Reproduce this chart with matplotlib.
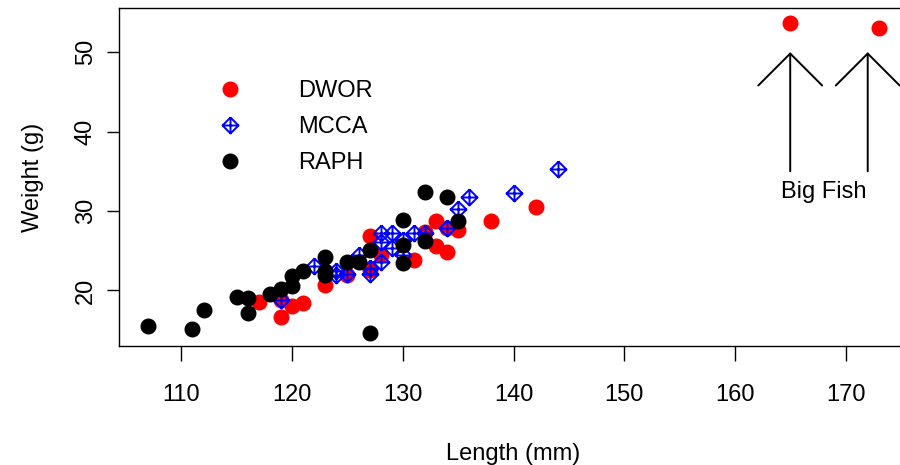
import matplotlib
matplotlib.use("Agg")
import matplotlib.pyplot as plt
from matplotlib.path import Path
from matplotlib.lines import Line2D

plt.rcParams['font.family'] = ['Liberation Sans', 'DejaVu Sans']

# ---- data ----
dwor_len = [117, 119, 119, 120, 121, 123, 125, 127, 127, 128, 131, 132, 133, 133,
            134, 134, 135, 138, 142, 165, 173]
dwor_wt = [18.6, 16.7, 18.8, 18.0, 18.4, 20.7, 21.9, 26.9, 22.6, 24.4, 23.8, 27.3,
           28.8, 25.6, 24.9, 27.8, 27.6, 28.7, 30.5, 53.7, 53.0]

mcca_len = [119, 122, 124, 124, 125, 126, 127, 127, 128, 128, 128, 129, 129, 130,
            130, 131, 132, 134, 135, 136, 140, 144]
mcca_wt = [18.8, 23.1, 22.5, 22.0, 22.1, 24.5, 22.8, 22.1, 27.2, 26.1, 23.6, 27.2,
           25.3, 24.4, 26.3, 27.2, 27.2, 27.8, 30.2, 31.8, 32.3, 35.3]

raph_len = [107, 111, 112, 115, 116, 116, 118, 119, 120, 120, 121, 123, 123, 123,
            125, 126, 127, 127, 130, 130, 130, 132, 132, 134, 135]
raph_wt = [15.5, 15.2, 17.5, 19.2, 19.0, 17.2, 19.6, 20.2, 20.5, 21.8, 22.4, 24.2,
           22.4, 21.9, 23.6, 23.6, 14.6, 25.1, 28.9, 25.7, 23.4, 32.4, 26.2, 31.7, 28.7]

species = ["DWOR", "MCCA", "RAPH"]
x_ticks = [110, 120, 130, 140, 150, 160, 170]
y_ticks = [20, 30, 40, 50]

arrow_x = [165, 172]
arrow_y0 = [35, 35]
arrow_y1 = [50, 50]
note_text = "Big Fish"
note_x, note_y = 168, 32.4

# diamond with plus (R pch 9)
diamond_plus = Path(
    [(0, 1), (1, 0), (0, -1), (-1, 0), (0, 1), (-1, 0), (1, 0), (0, -1), (0, 1)],
    [Path.MOVETO, Path.LINETO, Path.LINETO, Path.LINETO, Path.LINETO,
     Path.MOVETO, Path.LINETO, Path.MOVETO, Path.LINETO])

FS = 17
fig = plt.figure(figsize=(9, 4.65), dpi=100)
ax = fig.add_axes([119 / 900, (465 - 346) / 465, (908 - 119) / 900, (346 - 8.5) / 465])

circ_ms = 10.5
dia_ms = 11.5
ax.plot(dwor_len, dwor_wt, linestyle='none', marker='o', ms=circ_ms,
        color='#FF0000', mec='#FF0000')
ax.plot(mcca_len, mcca_wt, linestyle='none', marker=diamond_plus, ms=dia_ms,
        mfc='none', mec='#0000FF', mew=1.4)
ax.plot(raph_len, raph_wt, linestyle='none', marker='o', ms=circ_ms,
        color='black', mec='black')

for xa, y0, y1 in zip(arrow_x, arrow_y0, arrow_y1):
    ax.annotate('', xy=(xa, y1), xytext=(xa, y0),
                arrowprops=dict(arrowstyle='->,head_length=2.3,head_width=2.3',
                                mutation_scale=10, lw=1.4, color='black',
                                shrinkA=0, shrinkB=0))
ax.text(note_x, note_y, note_text, ha='center', va='center', fontsize=FS)

ax.set_xlim(104.36, 175.64)
ax.set_ylim(13.0, 55.5)
ax.set_xticks(x_ticks)
ax.set_yticks(y_ticks)
ax.tick_params(axis='x', length=11, width=1, pad=16, labelsize=FS)
ax.tick_params(axis='y', length=9, width=1, pad=7, labelsize=FS, labelrotation=90)
for lab in ax.get_yticklabels():
    lab.set_va('center')
for sp in ax.spines.values():
    sp.set_linewidth(1.0)

ax.set_xlabel("Length (mm)", fontsize=FS, labelpad=27)
ax.set_ylabel("Weight (g)", fontsize=FS, labelpad=22)

handles = [
    Line2D([], [], linestyle='none', marker='o', ms=circ_ms, color='#FF0000'),
    Line2D([], [], linestyle='none', marker=diamond_plus, ms=dia_ms, mfc='none',
           mec='#0000FF', mew=1.4),
    Line2D([], [], linestyle='none', marker='o', ms=circ_ms, color='black'),
]
ax.legend(handles, species, loc='center left',
          bbox_to_anchor=((218 - 119) / 789, (346 - 127) / 337.5),
          frameon=False, fontsize=FS, handlelength=1.0, handletextpad=2.4,
          labelspacing=0.6, borderpad=0, borderaxespad=0)

fig.savefig("out.png", dpi=100)
